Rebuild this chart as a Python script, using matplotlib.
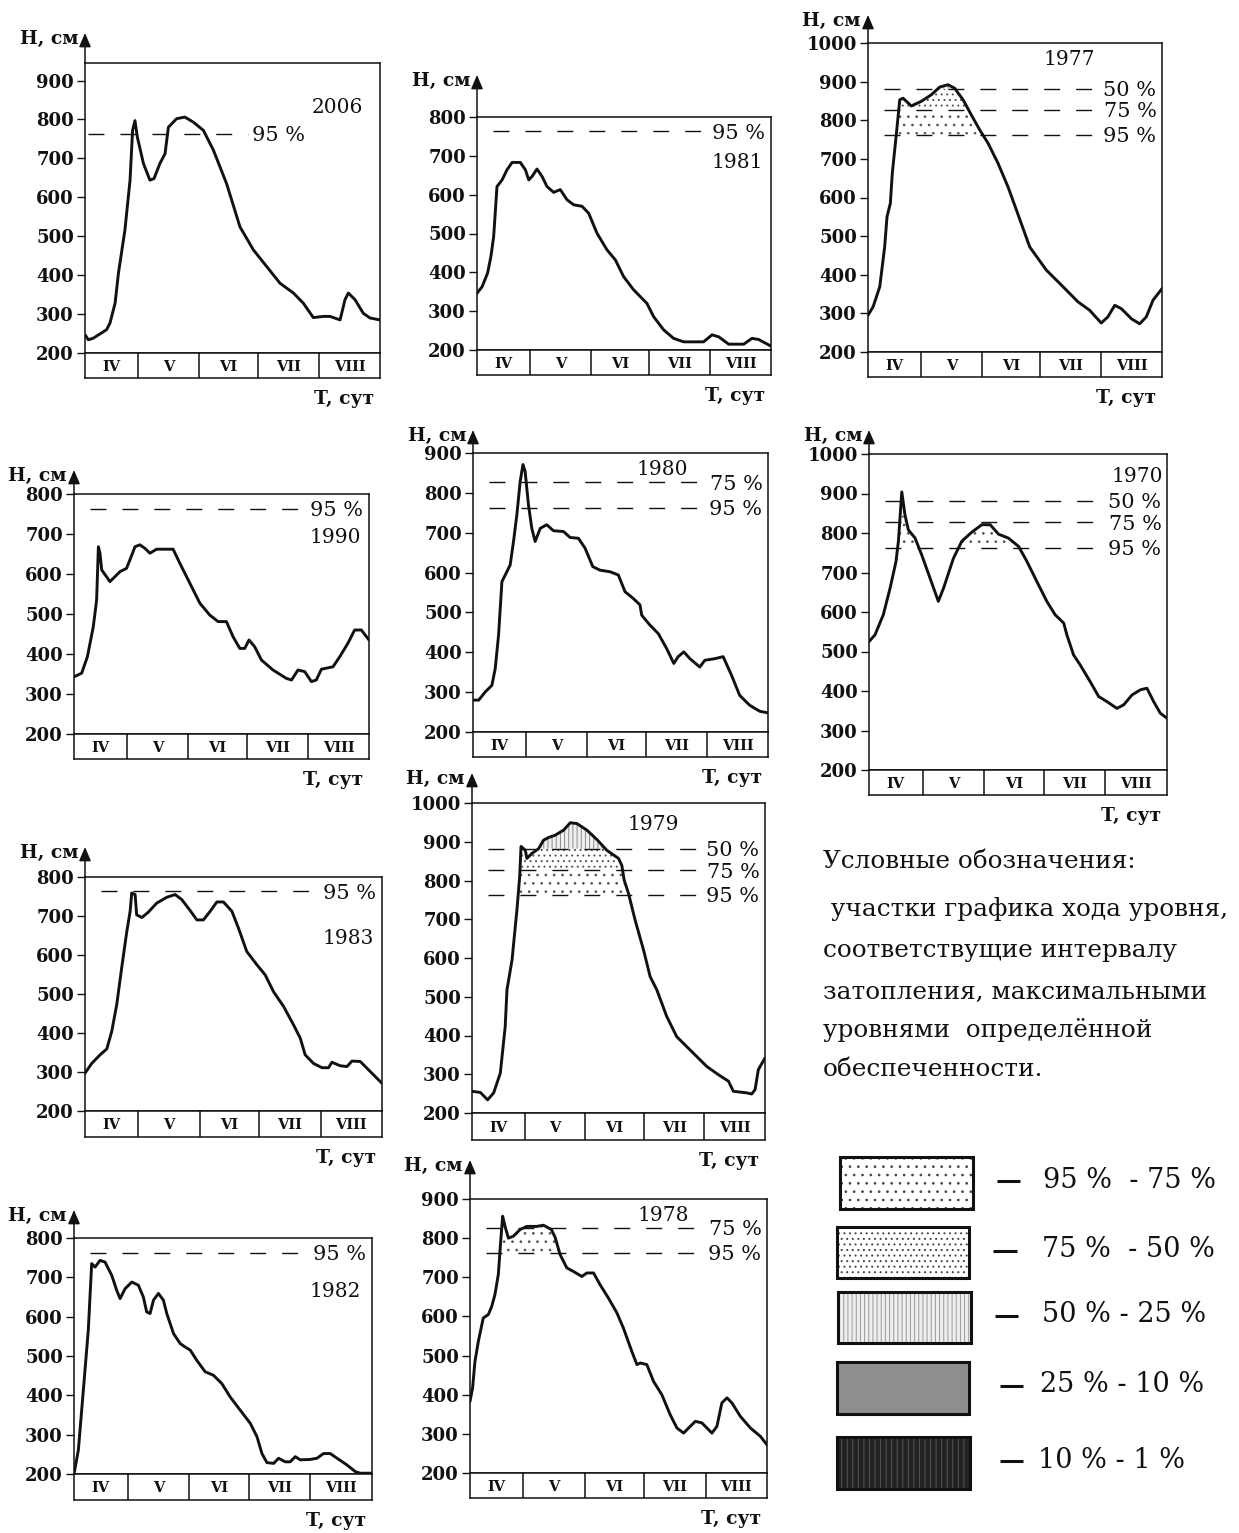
import numpy as np
import matplotlib
matplotlib.use('Agg')
import matplotlib.pyplot as plt
from matplotlib.patches import Rectangle

plt.rcParams['font.family'] = ['DejaVu Serif']
plt.rcParams['lines.scale_dashes'] = False
plt.rcParams['hatch.linewidth'] = 0.7

W, H = 1239, 1533

# ---------------- data ----------------
month_edges = [0, 27, 58, 88, 119, 150]
month_labels = ['IV', 'V', 'VI', 'VII', 'VIII']
y_label = 'H, см'
x_label = 'T, сут'
pct_names = ['95 %', '75 %', '50 %']
pct_values = [763, 827, 882]

years = ['2006', '1981', '1977', '1990', '1980', '1970', '1983', '1979', '1982', '1978']

day_2006 = [0, 1.7, 4.2, 11, 12.7, 15.3, 17, 20.3, 22.9, 24.2, 25.4, 26.6, 29.7, 33, 35.1, 38.1, 40.7,
            42.4, 46.6, 50.8, 55.1, 60.2, 65.3, 72, 78.8, 85.6, 92.4, 99.2, 106, 111, 116.1, 121.2,
            124.6, 129.7, 132.2, 133.9, 137.3, 141.5, 144.9, 150]
lvl_2006 = [247, 234, 238, 260, 277, 328, 405, 516, 644, 772, 797, 755, 687, 644, 648, 687, 712,
            780, 802, 806, 793, 772, 721, 635, 524, 465, 422, 379, 354, 328, 291, 294,
            294, 285, 337, 354, 337, 302, 290, 285]

day_1981 = [0, 2.6, 5.4, 7.1, 8.5, 10.2, 12.8, 15.3, 17.9, 22.1, 24.7, 26.4, 28.1, 30.6, 33.2, 35.7,
            39.1, 42.5, 45.9, 49.3, 53.6, 57, 61.2, 66.3, 70.6, 74.8, 79.9, 86.7, 90.1, 95.2, 100.3,
            105.4, 115.6, 119.9, 123.3, 128.4, 136.1, 140.3, 143.7, 150]
lvl_1981 = [346, 363, 398, 441, 492, 621, 638, 664, 683, 683, 664, 638, 647, 666, 647, 621,
            606, 613, 587, 574, 570, 552, 501, 458, 432, 389, 355, 320, 286, 252, 230,
            221, 221, 239, 234, 215, 215, 230, 227, 210]

day_1977 = [0, 2.6, 6, 8.5, 9.7, 11.4, 12.4, 14.5, 16.2, 17.9, 22.1, 27.2, 32.3, 36.6, 40.8, 44.2,
            48.5, 52.7, 57, 61.2, 66.3, 71.4, 75.7, 82.5, 91, 99.5, 107.1, 113.1, 119, 122.4, 125.9,
            129.3, 134.4, 138.6, 142, 145.4, 150]
lvl_1977 = [295, 317, 369, 472, 550, 585, 663, 766, 853, 857, 837, 849, 866, 886, 892, 883,
            853, 814, 775, 741, 689, 628, 568, 472, 412, 369, 330, 308, 275, 291, 321,
            312, 286, 273, 291, 334, 364]

day_1990 = [0, 3.9, 6.8, 9.8, 11.5, 12.4, 13.2, 14.1, 18.3, 23.4, 26.7, 28.4, 31, 33.5, 36.1, 38.6,
            42, 50.4, 53.8, 58.9, 64, 69.1, 73.3, 77.5, 80.9, 84.3, 86.8, 89, 91.9, 95.3, 101.2,
            108, 110.6, 113.9, 117.3, 120.7, 123.2, 125.8, 131.7, 135.1, 139.3, 142.7, 146.1, 150]
lvl_1990 = [343, 352, 393, 468, 535, 668, 652, 610, 581, 606, 614, 635, 668, 673, 664, 652,
            662, 662, 627, 577, 527, 497, 481, 481, 443, 414, 414, 435, 418, 385, 360,
            339, 335, 360, 356, 331, 335, 362, 368, 393, 427, 460, 460, 435]

day_1980 = [0, 2.9, 6.3, 9.6, 11.3, 13, 14.7, 17.2, 18.9, 20.6, 22.3, 24, 25.4, 26.5, 28.2, 29.9,
            31.6, 34.2, 37.5, 40.9, 46, 49.4, 53.6, 57, 60.9, 64.6, 69.7, 73.9, 77.3, 81.5, 84.9,
            85.8, 90, 94.2, 98.4, 102.1, 104.3, 107.2, 110.3, 115.3, 117.9, 123, 127.2, 131.4,
            135.6, 140.7, 145.8, 150]
lvl_1980 = [280, 280, 301, 317, 359, 443, 577, 602, 619, 678, 745, 829, 871, 854, 770, 711,
            678, 711, 720, 705, 703, 688, 686, 661, 615, 606, 602, 594, 552, 535, 519,
            493, 468, 447, 410, 372, 389, 401, 384, 363, 380, 384, 389, 343,
            292, 267, 252, 248]

day_1970 = [0, 3, 7.2, 10.6, 13.6, 14.8, 16.5, 18.1, 19.8, 23.2, 26.5, 30.7, 34.9, 37.5, 42.5, 46.7,
            51.7, 56.8, 61, 65.2, 70.2, 75.3, 79.5, 84.5, 89.5, 93.7, 98, 99.6, 103, 106.3, 111.3,
            115.6, 119.8, 124.8, 128.2, 132.4, 136.6, 139.9, 143.3, 146.6, 150]
lvl_1970 = [525, 542, 593, 660, 728, 779, 904, 846, 808, 787, 745, 686, 627, 660, 736, 779,
            802, 821, 821, 797, 787, 766, 728, 677, 627, 593, 572, 542, 491, 466, 424,
            386, 373, 356, 365, 390, 403, 407, 373, 344, 331]

day_1983 = [0, 3.4, 7.6, 11, 13.5, 16, 18.5, 21.1, 22.8, 23.6, 25.3, 26.1, 28.7, 32, 36.2, 41.3,
            45.5, 48.9, 53.1, 56.5, 59.8, 63.2, 66.6, 69.9, 74.2, 77.5, 81.7, 86.8, 91, 95.2, 100.3,
            105.3, 108.7, 111.2, 115.4, 119.7, 123, 124.7, 128.9, 132.3, 134.8, 139, 144.1, 150]
lvl_1983 = [297, 322, 344, 359, 404, 472, 566, 660, 712, 759, 755, 703, 696, 710, 733, 748,
            755, 742, 714, 690, 690, 712, 736, 736, 712, 669, 609, 575, 549, 506, 468,
            421, 387, 344, 322, 311, 311, 325, 316, 314, 328, 327, 301, 271]

day_1979 = [0, 4.3, 8, 11.1, 14.5, 17, 17.9, 20.5, 23, 24.4, 25.1, 27.3, 28.1, 30.7, 34.1, 36.6,
            39.2, 42.6, 46.9, 50.3, 53.7, 58.8, 63.9, 69, 75, 76.7, 77.9, 80.1, 83.5, 87.8, 91.2,
            94.6, 99.7, 104.8, 111.6, 120.2, 126.1, 131.3, 133.8, 140.6, 143.2, 144.9, 146.6, 150]
lvl_1979 = [256, 253, 234, 252, 303, 423, 518, 595, 724, 809, 888, 878, 857, 870, 882, 904,
            911, 917, 930, 949, 947, 930, 906, 878, 857, 839, 801, 767, 698, 621, 552,
            518, 449, 397, 363, 320, 299, 282, 256, 252, 249, 260, 312, 342]

day_1982 = [0, 2.2, 4.7, 7.2, 8.9, 10.6, 13.1, 15.6, 19, 21.5, 23.2, 25.7, 29.1, 32.4, 34.9, 36.6,
            38.3, 40, 42.5, 45, 46.7, 50.1, 53.4, 55.9, 58.5, 61.8, 66, 70.2, 74.4, 78.6, 83.7,
            88.7, 92.1, 94.6, 97.1, 100.5, 103, 106.3, 108.8, 111.4, 113.9, 118.9, 122.3, 125.6,
            129, 132.4, 137.4, 141.6, 144.1, 150]
lvl_1982 = [200, 261, 413, 566, 735, 726, 743, 739, 705, 667, 646, 671, 688, 680, 650, 612,
            608, 642, 659, 642, 608, 557, 532, 523, 515, 489, 460, 451, 430, 396, 362,
            329, 295, 252, 229, 227, 240, 231, 231, 244, 236, 237, 240, 252,
            252, 240, 223, 206, 202, 202]

day_1978 = [0, 1.3, 2.5, 4.2, 6.7, 9.3, 11, 12.6, 14.3, 15.5, 16.5, 17.7, 19.4, 21.9, 25.3, 28.7,
            33.7, 37.1, 41.1, 43, 45.5, 48.9, 52.2, 56.5, 59, 62.4, 65.7, 69.9, 74.2, 77.5, 81.7,
            84.3, 86, 89.3, 92.7, 96.9, 101.1, 104.5, 107.9, 110.4, 113.8, 117.1, 122.2, 124.7,
            127.2, 129.8, 132.3, 136.5, 141.6, 146.6, 150]
lvl_1978 = [383, 417, 485, 536, 596, 605, 626, 656, 707, 792, 856, 830, 800, 805, 822, 830,
            830, 833, 822, 802, 758, 724, 715, 702, 711, 711, 681, 647, 609, 570, 511,
            477, 481, 477, 434, 400, 349, 315, 302, 315, 332, 328, 302, 319,
            379, 392, 379, 345, 315, 294, 272]

series = {
    '2006': (day_2006, lvl_2006), '1981': (day_1981, lvl_1981), '1977': (day_1977, lvl_1977),
    '1990': (day_1990, lvl_1990), '1980': (day_1980, lvl_1980), '1970': (day_1970, lvl_1970),
    '1983': (day_1983, lvl_1983), '1979': (day_1979, lvl_1979), '1982': (day_1982, lvl_1982),
    '1978': (day_1978, lvl_1978),
}

pct_shown = {
    '2006': ['95 %'], '1981': ['95 %'], '1977': ['50 %', '75 %', '95 %'], '1990': ['95 %'],
    '1980': ['75 %', '95 %'], '1970': ['50 %', '75 %', '95 %'], '1983': ['95 %'],
    '1979': ['50 %', '75 %', '95 %'], '1982': ['95 %'], '1978': ['75 %', '95 %'],
}
filled_years = ['1977', '1979', '1970', '1978']

legend_title = ['Условные обозначения:',
                ' участки графика хода уровня,',
                'соответствущие интервалу',
                'затопления, максимальными',
                'уровнями  определённой',
                'обеспеченности.']
legend_labels = ['95 %  - 75 %', '75 %  - 50 %', '50 % - 25 %', '25 % - 10 %', '10 % - 1 %']

# ---------------- layout (pixels) ----------------
# left, right, box top, y(200), strip bottom, arrow tip, ylim top
panel_px = {
    '2006': (85, 380, 63, 353, 378, 33, 945),
    '1981': (477, 771, 117, 350, 375, 75, 800),
    '1977': (868, 1162, 43, 352, 377, 15, 1000),
    '1990': (74, 369, 494, 734, 759, 470, 800),
    '1980': (473, 768, 453, 732, 757, 430, 900),
    '1970': (869, 1167, 454, 770, 795, 430, 1000),
    '1983': (85, 382, 877, 1111, 1137, 847, 800),
    '1979': (472, 765, 803, 1113, 1140, 773, 1000),
    '1982': (74, 372, 1238, 1474, 1500, 1210, 800),
    '1978': (470, 767, 1199, 1473, 1498, 1160, 900),
}
# year label (x axes-fraction centre, y data)
year_pos = {
    '2006': (0.856, 836), '1981': (0.886, 689), '1977': (0.684, 962), '1990': (0.885, 697),
    '1980': (0.64, 863), '1970': (0.899, 948), '1983': (0.885, 647), '1979': (0.618, 950),
    '1982': (0.875, 670), '1978': (0.65, 862),
}

INK = '#111111'
fig = plt.figure(figsize=(W / 100, H / 100), dpi=100)
fig.patch.set_facecolor('white')


def px_rect(L, R, top, bottom):
    return [L / W, 1 - bottom / H, (R - L) / W, (bottom - top) / H]


lvl_of = dict(zip(pct_names, pct_values))

for yr in years:
    L, R, T, B, S, tip, ytop = panel_px[yr]
    ax = fig.add_axes(px_rect(L, R, T, B))
    sx = fig.add_axes(px_rect(L, R, B, S))
    x = np.array(series[yr][0], float)
    y = np.array(series[yr][1], float)

    ax.set_xlim(month_edges[0], month_edges[-1])
    ax.set_ylim(200, ytop)
    ax.patch.set_alpha(0)

    # shaded intervals
    if yr in filled_years:
        bands = [(lvl_of['95 %'], lvl_of['75 %'], '..', '#555555'),
                 (lvl_of['75 %'], lvl_of['50 %'], '...', '#555555'),
                 (lvl_of['50 %'], ytop, '||||', '#888888')]
        for lo, hi, hatch, hc in bands:
            poly = ax.fill_between(x, lo, y, where=y > lo, interpolate=True,
                                   facecolor='white' if hatch != '||||' else '#f0f0f0',
                                   edgecolor=hc, hatch=hatch, linewidth=0, zorder=1)
            clip = Rectangle((month_edges[0], lo), month_edges[-1], hi - lo, transform=ax.transData)
            poly.set_clip_path(clip)

    ax.plot(x, y, color=INK, lw=2.1, solid_joinstyle='round', solid_capstyle='round', zorder=3)

    ticks = np.arange(200, ytop + 1, 100)
    ax.set_yticks(ticks)
    ax.set_yticklabels([str(int(t)) for t in ticks], fontsize=13, fontweight='bold', color=INK)
    ax.set_xticks([])
    ax.tick_params(axis='y', direction='out', length=6, width=1.0, pad=2, color=INK)
    for sp in ax.spines.values():
        sp.set_linewidth(1.1)
        sp.set_color(INK)

    # y arrow
    hax = B - T
    ax.annotate('', xy=(0, 1 + (T - tip) / hax), xytext=(0, 1), xycoords='axes fraction',
                arrowprops=dict(arrowstyle='-|>,head_length=0.7,head_width=0.3', color=INK,
                                lw=1.1, shrinkA=0, shrinkB=0, mutation_scale=12),
                annotation_clip=False)

    # percent lines
    for name in pct_shown[yr]:
        lvl = lvl_of[name]
        if yr == '2006':
            xmin, xmax = 0.01, 0.553
        else:
            xmin, xmax = 0.055, 0.765
        ax.axhline(lvl, xmin=xmin, xmax=xmax, color=INK, lw=1.0, dashes=(11.5, 11.5), zorder=2)
        if yr == '2006':
            ax.annotate(name, xy=(0.567, lvl), xycoords=('axes fraction', 'data'),
                        ha='left', va='center_baseline', fontsize=15, color=INK)
        else:
            ax.annotate(name, xy=(1, lvl), xycoords=('axes fraction', 'data'),
                        xytext=(-4, 0), textcoords='offset points',
                        ha='right', va='center_baseline', fontsize=15, color=INK)

    xf, yv = year_pos[yr]
    ax.text(xf, yv, yr, transform=ax.get_yaxis_transform(), ha='center', va='center_baseline',
            fontsize=14.5, color=INK)

    # month strip
    sx.set_xlim(month_edges[0], month_edges[-1])
    sx.set_ylim(0, 1)
    sx.set_xticks([])
    sx.set_yticks([])
    for sp in sx.spines.values():
        sp.set_linewidth(1.1)
        sp.set_color(INK)
    for e in month_edges[1:-1]:
        sx.axvline(e, color=INK, lw=1.1)
    for i, lab in enumerate(month_labels):
        sx.text((month_edges[i] + month_edges[i + 1]) / 2, 0.45, lab, ha='center', va='center',
                fontsize=10.5, fontweight='bold', color=INK)

    fig.text((L - 7) / W, 1 - (tip + 6) / H, y_label, ha='right', va='center',
             fontsize=13.5, fontweight='bold', color=INK)
    fig.text((R - 6) / W, 1 - (S + 21) / H, x_label, ha='right', va='center',
             fontsize=13.5, fontweight='bold', color=INK)

# ---------------- legend ----------------
lg = fig.add_axes([0, 0, 1, 1])
lg.set_xlim(0, W)
lg.set_ylim(H, 0)
lg.axis('off')
lg.patch.set_alpha(0)

title_y = [861, 909, 951, 992, 1030, 1070]
for i, line in enumerate(legend_title):
    lg.text(823, title_y[i], line, ha='left', va='center', fontsize=17.8, color=INK)

box_px = [(840, 1157, 133, 52), (837, 1227, 132, 51), (838, 1292, 133, 51),
          (837, 1362, 132, 52), (837, 1437, 133, 52)]
box_fill = [('white', '..', '#444444'), ('white', '...', '#444444'), ('#eeeeee', '||||', '#9a9a9a'),
            ('#8e8e8e', None, None), ('#222222', '|||', '#555555')]
dash_x = [(997, 1020), (993, 1017), (995, 1018), (1000, 1023), (1000, 1023)]
text_x = [1043, 1042, 1042, 1040, 1038]
for i, (bx, by, bw, bh) in enumerate(box_px):
    fc, hatch, hc = box_fill[i]
    lg.add_patch(Rectangle((bx, by), bw, bh, facecolor=fc, edgecolor='none', zorder=1))
    if hatch:
        lg.add_patch(Rectangle((bx, by), bw, bh, facecolor='none', edgecolor=hc, hatch=hatch,
                               linewidth=0, zorder=2))
    lg.add_patch(Rectangle((bx, by), bw, bh, facecolor='none', edgecolor=INK, linewidth=2.2, zorder=3))
    cy = by + bh / 2
    lg.hlines(cy - 2, dash_x[i][0], dash_x[i][1], color=INK, lw=2.2)
    lg.text(text_x[i], cy - 3, legend_labels[i], ha='left', va='center', fontsize=19.5, color=INK)

fig.savefig('out.png', dpi=100, facecolor='white')
